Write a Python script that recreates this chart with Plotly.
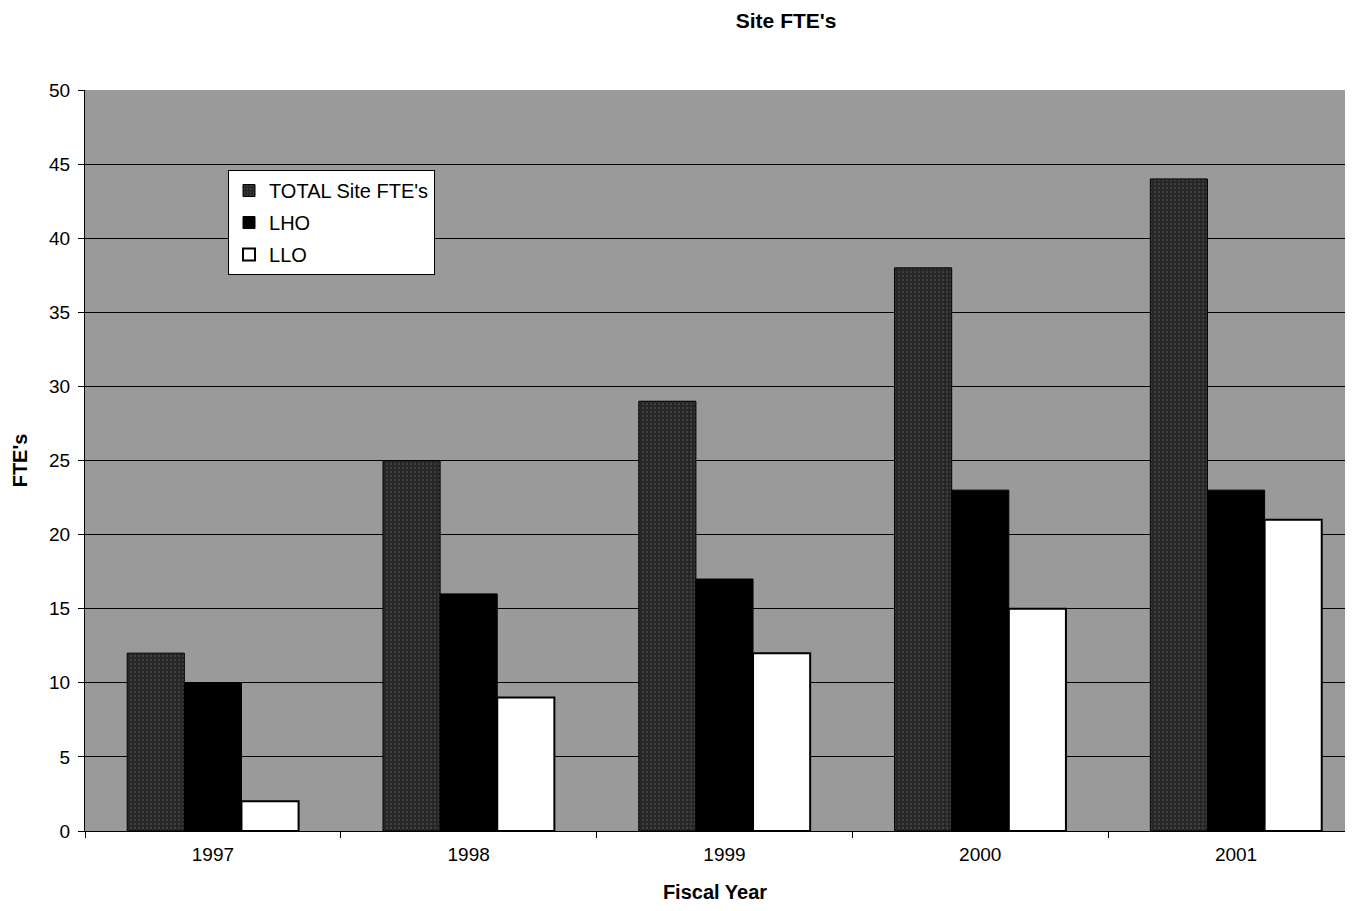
import plotly.graph_objects as go

years = ["1997", "1998", "1999", "2000", "2001"]
total_site = [12, 25, 29, 38, 44]
lho = [10, 16, 17, 23, 23]
llo = [2, 9, 12, 15, 21]

fig = go.Figure()
fig.add_trace(go.Bar(
    x=years, y=total_site, name="TOTAL Site FTE's", legendgroup="a",
    marker=dict(color="#262626", line=dict(color="#000000", width=1),
                pattern=dict(shape=".", fgcolor="#5a5a5a", size=4, solidity=0.25)),
))
fig.add_trace(go.Bar(
    x=years, y=lho, name="LHO", legendgroup="b",
    marker=dict(color="#000000", line=dict(color="#000000", width=1)),
))
fig.add_trace(go.Bar(
    x=years, y=llo, name="LLO", legendgroup="c",
    marker=dict(color="#ffffff", line=dict(color="#000000", width=2)),
))

fig.update_layout(
    width=1337, height=895,
    margin=dict(l=77, r=0, t=82, b=72),
    paper_bgcolor="#ffffff",
    plot_bgcolor="#9a9a9a",
    barmode="group",
    bargap=0.33,
    bargroupgap=0,
    font=dict(family="Arial, Liberation Sans, sans-serif", size=19, color="#000000"),
    title=dict(text="<b>Site FTE's</b>", x=0.582, xanchor="center", xref="container",
               y=0.986, yanchor="middle", yref="container",
               font=dict(size=21)),
    legend=dict(x=0.1135, y=0.892, xanchor="left", yanchor="top",
                bgcolor="#ffffff", bordercolor="#000000", borderwidth=1,
                font=dict(size=20), tracegroupgap=3, itemwidth=30),
    xaxis=dict(
        title=dict(text="<b>Fiscal Year</b>", font=dict(size=20), standoff=22),
        range=[-0.5, 4.426],
        showline=True, linecolor="#000000", linewidth=1,
        ticks="outside", tickson="boundaries", ticklen=6, tickcolor="#000000",
        ticklabelstandoff=6,
        showgrid=False,
    ),
    yaxis=dict(
        title=dict(text="<b>FTE's</b>", font=dict(size=20), standoff=16),
        range=[0, 50], dtick=5,
        showline=True, linecolor="#000000", linewidth=1,
        ticks="outside", ticklen=6, tickcolor="#000000",
        ticklabelstandoff=4,
        showgrid=True, gridcolor="#000000", gridwidth=1,
        zeroline=False,
    ),
)

fig.write_html("out.html")
